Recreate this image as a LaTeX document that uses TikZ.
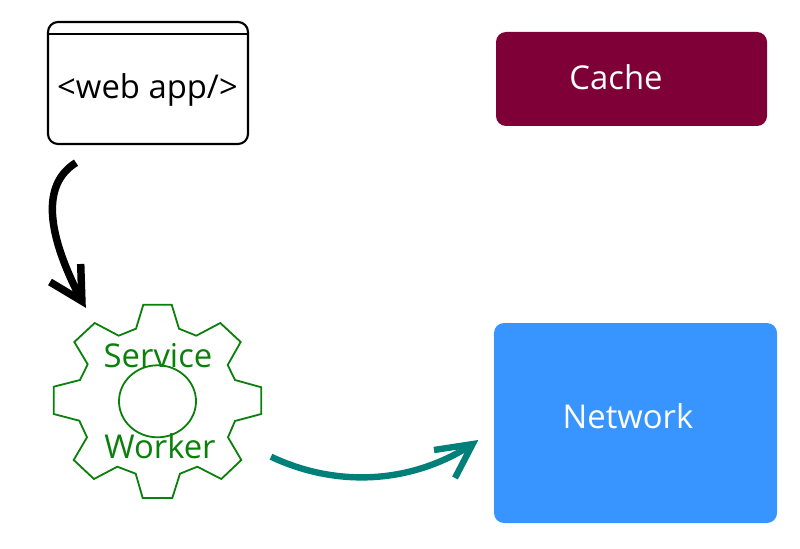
\documentclass[tikz,border=0pt]{standalone}
\usepackage{fontspec}
\setmainfont{Open Sans}
\definecolor{cachered}{HTML}{7F0037}
\definecolor{netblue}{HTML}{3895FF}
\definecolor{geargreen}{HTML}{0A7F0A}
\definecolor{arrowteal}{HTML}{008079}
\tikzset{
  x=0.75pt,y=-0.75pt,
  box/.style={rounded corners=7.5pt,inner sep=0pt},
  lbl/.style={inner sep=0pt,font=\fontsize{24.6}{28}\selectfont},
  gearline/.style={draw=geargreen,line width=1.35pt,line join=miter},
  blackarrow/.style={line width=5.6pt,line join=miter,miter limit=10},
  tealarrow/.style={draw=arrowteal,line width=4.8pt,line join=miter,miter limit=10},
}
\begin{document}
\begin{tikzpicture}
\useasboundingbox (0,0) rectangle (800,549);
% web app window
\draw[line width=1.6pt,rounded corners=7.5pt] (48,22) rectangle (248,144);
\draw[line width=1.6pt] (48,34) -- (248,34);
\node[lbl,text=black] (app) at (147.5,90) {<web app/>};
% cache
\node[box,fill=cachered,minimum width=203.25pt,minimum height=70.5pt] (cache) at (631.5,79) {};
\node[lbl,text=white] (cachetxt) at (616,77) {Cache};
% network
\node[box,fill=netblue,minimum width=212.25pt,minimum height=150pt] (network) at (635.5,423) {};
\node[lbl,text=white] (nettxt) at (628,416) {Network};
% gear
\draw[gearline] (143.3,304.7)--(171.7,304.7)--(179,328.7)--(196.3,335.7)--(220.3,323)--(240.7,342)--(227.7,365)--(235,380)--(261.3,387.3)--(261.3,414)--(235,421)--(228,437.3)--(241.3,460)--(221.3,479)--(197.3,466.7)--(180,473.7)--(172.3,498)--(142.7,498)--(135.7,473.7)--(117.3,466.7)--(94,479)--(73.7,460)--(87,437.3)--(79.3,420.7)--(53.7,414)--(53.7,386.7)--(80,380)--(87.7,364.3)--(74.3,342)--(94.7,323)--(118.7,335.7)--(136,328.7)--cycle;
\draw[gearline] (157.5,401.3) ellipse [x radius=38.5,y radius=36];
\node[lbl,text=geargreen] (service) at (158,356) {Service};
\node[lbl,text=geargreen] (worker) at (160,446) {Worker};
% connectors
\coordinate (a1) at (76,162.7);
\coordinate (a2) at (81.9,301.1);
\coordinate (a3) at (50,282);
\coordinate (a4) at (80.7,264);
\coordinate (b1) at (271,456.7);
\coordinate (b2) at (472.6,444.1);
\coordinate (b3) at (434,450);
\coordinate (b4) at (455,478);
\draw[blackarrow] (a1) .. controls (45,182) and (42,225) .. (a2);
\draw[blackarrow] (a3) -- (a2) -- (a4);
\draw[tealarrow] (b1) .. controls (335,487) and (410,485) .. (b2);
\draw[tealarrow] (b3) -- (b2) -- (b4);
\end{tikzpicture}
\end{document}
